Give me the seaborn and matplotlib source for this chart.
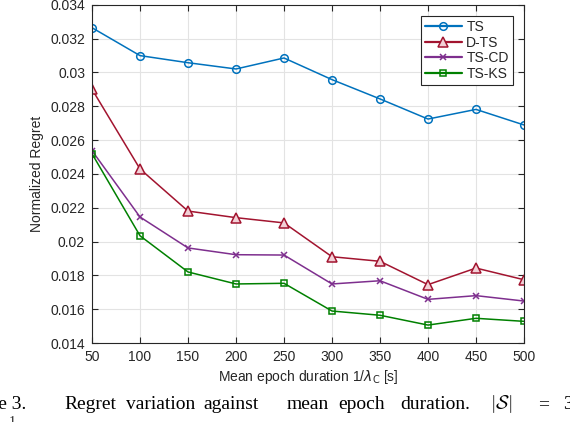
import matplotlib
matplotlib.use('Agg')
import matplotlib.pyplot as plt
import seaborn as sns

epoch_duration = [50, 100, 150, 200, 250, 300, 350, 400, 450, 500]
regret_ts = [0.03264, 0.03099, 0.03057, 0.03020, 0.03085, 0.02957, 0.02843, 0.02724, 0.02781, 0.02689]
regret_dts = [0.02900, 0.02429, 0.02180, 0.02141, 0.02110, 0.01910, 0.01883, 0.01745, 0.01843, 0.01774]
regret_tscd = [0.02537, 0.02145, 0.01962, 0.01922, 0.01920, 0.01749, 0.01768, 0.01658, 0.01680, 0.01648]
regret_tsks = [0.02519, 0.02034, 0.01820, 0.01749, 0.01753, 0.01589, 0.01564, 0.01506, 0.01546, 0.01528]
series_names = ['TS', 'D-TS', 'TS-CD', 'TS-KS']
yticks = [0.014, 0.016, 0.018, 0.02, 0.022, 0.024, 0.026, 0.028, 0.03, 0.032, 0.034]
ytick_labels = ['0.014', '0.016', '0.018', '0.02', '0.022', '0.024', '0.026', '0.028', '0.03', '0.032', '0.034']

sns.set_style('white')
plt.rcParams['font.family'] = ['Liberation Sans', 'DejaVu Sans']
dark = '#262626'

fig = plt.figure(figsize=(5.7, 4.22), dpi=100)
ax = fig.add_axes([92 / 570, 1 - 343 / 422, (524 - 92) / 570, (343 - 4.7) / 422])

styles = [
    ('#0072BD', 'o', 5.5, 'none'),
    ('#A2142F', '^', 6.5, '#f2d0d6'),
    ('#7E2F8E', 'x', 4.5, 'none'),
    ('#008000', 's', 4.2, 'none'),
]
all_series = [regret_ts, regret_dts, regret_tscd, regret_tsks]
for name, vals, (col, mk, ms, fc) in zip(series_names, all_series, styles):
    sns.lineplot(x=epoch_duration, y=vals, ax=ax, color=col, marker=mk, markersize=ms,
                 markerfacecolor=fc, markeredgecolor=col, markeredgewidth=1.1,
                 linewidth=1.1, label=name)

ax.set_xlim(50, 500)
ax.set_ylim(0.014, 0.034)
ax.set_xticks(epoch_duration)
ax.set_xticklabels([str(v) for v in epoch_duration])
ax.set_yticks(yticks)
ax.set_yticklabels(ytick_labels)
ax.grid(True, color='#e3e3e3', linewidth=0.8)
ax.set_axisbelow(True)
for sp in ax.spines.values():
    sp.set_visible(True)
    sp.set_color(dark)
    sp.set_linewidth(0.8)
ax.tick_params(direction='in', length=4, width=0.8, colors=dark, labelsize=10,
               top=True, right=True, left=True, bottom=True, pad=5)
for lbl in ax.get_xticklabels() + ax.get_yticklabels():
    lbl.set_color(dark)

ax.set_xlabel(r'Mean epoch duration 1/$\lambda_{\mathrm{C}}$ [s]', fontsize=10, color=dark, labelpad=3)
ax.set_ylabel('Normalized Regret', fontsize=10, color=dark, labelpad=4)

leg = ax.legend(loc='upper right', fontsize=10, frameon=True, fancybox=False,
                edgecolor=dark, framealpha=1, handlelength=2.7, labelspacing=0.12,
                borderpad=0.3, handletextpad=0.3, borderaxespad=0.8)
leg.get_frame().set_linewidth(0.8)
for h in leg.get_lines():
    h.set_linewidth(1.6)

# cropped caption from the paper
cap = dict(fontsize=14, family='Liberation Serif', color='black', va='baseline')
yb = 1 - 409 / 422
fig.text(26 / 570, yb, 'Figure 3.', ha='right', **cap)
words = [(64, 'Regret'), (126, 'variation'), (203, 'against'), (287, 'mean'),
         (338, 'epoch'), (400, 'duration.'), (490, r'$|\mathcal{S}|$'), (538, '='), (563, '3')]
for xp, w in words:
    fig.text(xp / 570, yb, w, ha='left', math_fontfamily='cm', **cap)
fig.text(12 / 570, 1 - 416 / 422, '1', fontsize=10, family='Liberation Serif', va='top', ha='center')

fig.savefig('out.png', dpi=100)
